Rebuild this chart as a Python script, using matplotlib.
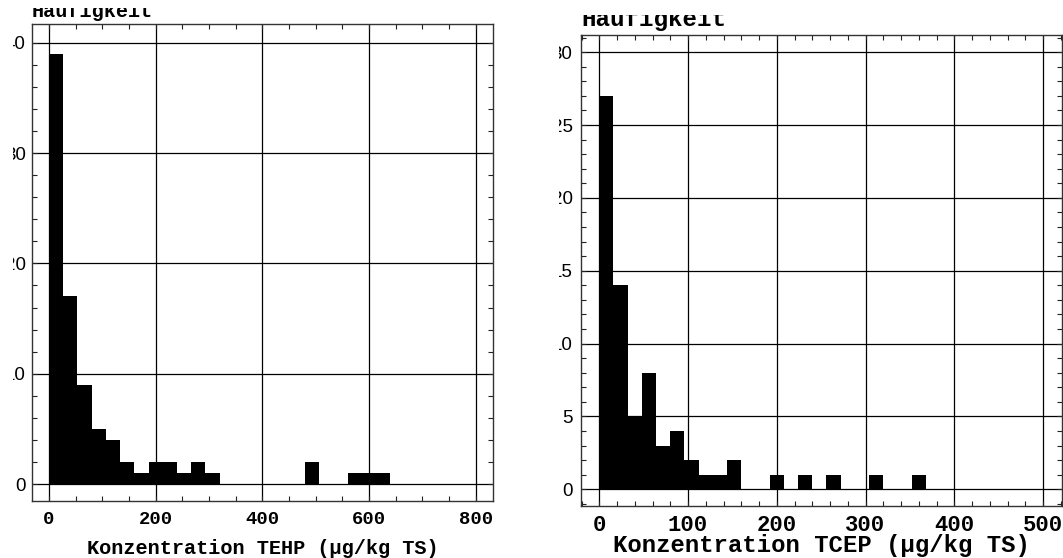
import matplotlib
matplotlib.use("Agg")
import matplotlib.pyplot as plt
from matplotlib.ticker import MultipleLocator
from matplotlib.patches import Rectangle
import numpy as np

# histogram counts
tehp_counts = [39, 17, 9, 5, 4, 2, 1, 2, 2, 1, 2, 1, 0, 0, 0,
               0, 0, 0, 2, 0, 0, 1, 1, 1, 0, 0, 0, 0, 0, 0]
tehp_bin = 800 / 30
tcep_counts = [27, 14, 5, 8, 3, 4, 2, 1, 1, 2, 0, 0, 1, 0, 1,
               0, 1, 0, 0, 1, 0, 0, 1, 0, 0, 0, 0, 0, 0, 0]
tcep_bin = 16

tehp_xticks = [0, 200, 400, 600, 800]
tehp_yticks = [0, 10, 20, 30, 40]
tcep_xticks = [0, 100, 200, 300, 400, 500]
tcep_yticks = [0, 5, 10, 15, 20, 25, 30]

ylabel = "Häufigkeit"
tehp_xlabel = "Konzentration TEHP (µg/kg TS)"
tcep_xlabel = "Konzentration TCEP (µg/kg TS)"

W, H = 1063, 558
mono = "Liberation Mono"
sans = "Liberation Sans"

fig = plt.figure(figsize=(W / 100, H / 100), dpi=100)


def px(x0, y0, x1, y1):
    # pixel box (top-left origin) -> figure fraction rect
    return [x0 / W, (H - y1) / H, (x1 - x0) / W, (y1 - y0) / H]


def hist_panel(ax, counts, width, xticks, yticks, xminor, yminor,
               xlim, ylim, xfs, yfs, xpad, ypad):
    edges = np.arange(len(counts)) * width
    ax.bar(edges, counts, width=width, align="edge", color="black",
           linewidth=0, zorder=2)
    ax.set_xlim(*xlim)
    ax.set_ylim(*ylim)
    ax.set_xticks(xticks, [str(t) for t in xticks], fontfamily=mono,
                  fontweight="bold", fontsize=xfs)
    ax.set_yticks(yticks, [str(t) for t in yticks], fontfamily=sans,
                  fontsize=yfs)
    ax.xaxis.set_minor_locator(MultipleLocator(xminor))
    ax.yaxis.set_minor_locator(MultipleLocator(yminor))
    ax.tick_params(which="both", direction="in", top=True, right=True,
                   length=3.5, width=0.8, color="#222")
    ax.tick_params(axis="x", pad=xpad)
    ax.tick_params(axis="y", pad=ypad)
    ax.grid(True, which="major", color="black", linewidth=0.9)
    ax.set_axisbelow(True)
    for s in ax.spines.values():
        s.set_color("#333")
        s.set_linewidth(1.0)


ax1 = fig.add_axes(px(32, 24, 493, 501))
hist_panel(ax1, tehp_counts, tehp_bin, tehp_xticks, tehp_yticks, 50, 2,
           (-31.9, 832.4), (-1.54, 41.7), 13.6, 13.5, 7.5, 4.5)

ax2 = fig.add_axes(px(581, 34.7, 1062, 506))
hist_panel(ax2, tcep_counts, tcep_bin, tcep_xticks, tcep_yticks, 20, 1,
           (-20.6, 521.4), (-1.15, 31.2), 16, 13.5, 6.5, 6)

# titles and axis labels
fig.text(32 / W, (H - 17) / H, ylabel, fontfamily=mono, fontweight="bold",
         fontsize=14.5, va="baseline", ha="left")
fig.text(581 / W, (H - 26) / H, ylabel, fontfamily=mono, fontweight="bold",
         fontsize=17.5, va="baseline", ha="left")
fig.text(262.5 / W, (H - 554) / H, tehp_xlabel, fontfamily=mono,
         fontweight="bold", fontsize=14.6, va="baseline", ha="center")
fig.text(821.5 / W, (H - 552) / H, tcep_xlabel, fontfamily=mono,
         fontweight="bold", fontsize=17.2, va="baseline", ha="center")

# the source panels were cropped; white bands reproduce the cut edges
for box in [(0, 0, 13, H), (0, 0, 260, 8), (560, 0, 860, 15),
            (496, 0, 559, H), (441, 533, 500, H), (1025.5, 533, W, H)]:
    x0, y0, x1, y1 = box
    fig.add_artist(Rectangle((x0 / W, (H - y1) / H), (x1 - x0) / W,
                             (y1 - y0) / H, transform=fig.transFigure,
                             facecolor="white", edgecolor="none",
                             zorder=10))

fig.savefig("out.png", dpi=100)
